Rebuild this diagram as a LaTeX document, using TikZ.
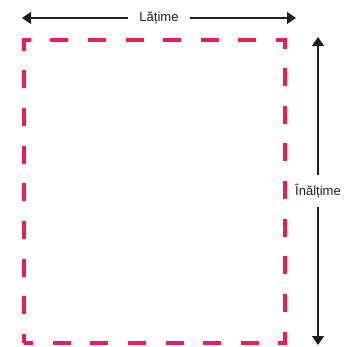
\documentclass[tikz,border=0pt]{standalone}
\usepackage{fontspec}
\usepackage{tikz}
\usetikzlibrary{arrows.meta}
\newfontfamily\dimfont{Liberation Sans}
\definecolor{crimson}{RGB}{233,30,86}
\definecolor{darkline}{RGB}{30,30,30}

\begin{document}
\begin{tikzpicture}[
			x=1pt, y=-1pt,
			frame/.style={draw=crimson, line width=4pt, dash pattern=on 18pt off 19.63pt, dash phase=9pt, minimum width=261pt, minimum height=303.5pt, inner sep=0pt},
			dimarrow/.style={{Triangle[length=9pt,width=12pt]}-{Triangle[length=9pt,width=12pt]}, line width=1.4pt, draw=darkline},
			dimlabel/.style={fill=white, text=darkline, inner xsep=11pt, inner ysep=9pt, font=\dimfont\fontsize{13pt}{15pt}\selectfont}
		]
		\useasboundingbox (0,0) rectangle (353,346);

		\node[frame] (frame) at (154.5,191.25) {};

		\coordinate (wleft) at (22,18);
		\coordinate (wright) at (296,18);
		\coordinate (htop) at (318,37);
		\coordinate (hbottom) at (318,345);

		\draw[dimarrow] (wleft) -- (wright) node[dimlabel, midway] (wlabel) {Lățime};
		\draw[dimarrow] (htop) -- (hbottom) node[dimlabel, midway, inner xsep=2pt] (hlabel) {Înălțime};

	\end{tikzpicture}
\end{document}
